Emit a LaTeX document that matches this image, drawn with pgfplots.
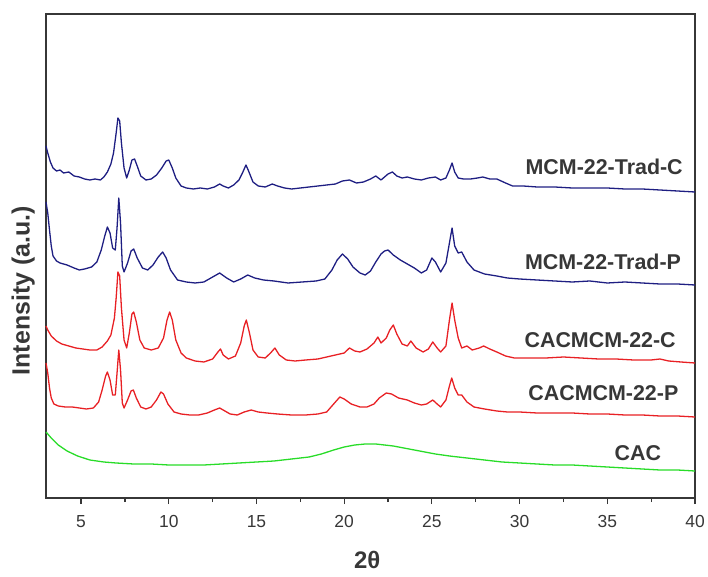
\documentclass[border=0pt]{standalone}
\usepackage{pgfplots}
\pgfplotsset{compat=1.18}
\usepackage{pgfplotstable}
\usepackage{fontspec}
\setmainfont{Liberation Sans}
\definecolor{cblue}{RGB}{30,30,130}
\definecolor{cred}{RGB}{232,32,36}
\definecolor{cgreen}{RGB}{40,220,40}
\definecolor{cgray}{RGB}{55,55,55}

\pgfplotstableread{
x y
3.0 352
3.1 345
3.25 336
3.4 330
3.6 327
3.8 328
4.0 325
4.3 326
4.6 322
4.9 321
5.2 319
5.5 318
5.8 319
6.1 318
6.3 321
6.5 326
6.7 334
6.85 345
7.0 365
7.1 380
7.2 377
7.3 355
7.45 330
7.6 320
7.75 328
7.9 338
8.05 339
8.2 332
8.4 322
8.7 318
9.0 319
9.3 323
9.6 330
9.85 337
10.0 338
10.2 330
10.4 320
10.7 312
11.0 310
11.4 309
11.8 310
12.2 309
12.6 311
12.9 314
13.1 312
13.4 310
13.7 313
14.0 318
14.2 325
14.4 333
14.55 327
14.8 316
15.1 312
15.5 311
15.9 314
16.2 312
16.6 310
17.0 309
17.5 310
18.0 311
18.5 312
19.0 313
19.5 314
19.9 317
20.3 318
20.7 315
21.1 316
21.5 319
21.8 322
22.1 318
22.5 324
22.75 326
23.0 322
23.3 320
23.6 321
24.0 319
24.4 318
24.8 320
25.2 321
25.5 318
25.8 320
26.0 328
26.15 335
26.3 326
26.5 320
26.8 319
27.2 319
27.6 320
27.9 321
28.3 319
28.7 319
29.2 315
29.6 312
30.2 312
31.0 311
32.0 311
33.0 310
34.0 310
35.0 310
36.0 309
37.0 309
38.0 308
39.0 307
40.0 306
}\tradC

\pgfplotstableread{
x y
3.0 296
3.1 285
3.2 268
3.3 252
3.4 242
3.6 237
3.8 235
4.2 233
4.6 230
4.9 228
5.2 229
5.6 231
5.9 236
6.15 248
6.35 262
6.5 271
6.65 265
6.8 250
6.95 248
7.05 270
7.15 300
7.25 275
7.35 232
7.45 226
7.65 235
7.85 247
8.0 249
8.2 240
8.5 230
8.8 228
9.1 233
9.4 241
9.65 246
9.85 240
10.1 228
10.5 218
11.0 216
11.5 215
12.0 216
12.5 221
12.9 225
13.3 220
13.7 216
14.1 219
14.5 223
14.9 220
15.4 218
16.0 217
16.8 215
17.6 216
18.4 217
18.9 219
19.3 228
19.6 238
19.9 244
20.2 239
20.5 231
20.9 225
21.2 223
21.5 227
21.8 236
22.1 244
22.3 247
22.5 248
22.8 243
23.2 238
23.6 234
24.0 230
24.4 225
24.7 228
25.0 240
25.2 236
25.5 226
25.8 235
26.0 255
26.15 270
26.3 252
26.5 245
26.7 246
27.0 236
27.4 228
28.0 224
28.7 222
29.3 220
30.0 219
31.0 218
32.0 217
33.0 216
34.0 217
35.0 215
36.0 216
37.0 215
38.0 214
39.0 214
40.0 213
}\tradP

\pgfplotstableread{
x y
3.0 172
3.1 168
3.3 162
3.6 157
3.9 154
4.3 152
4.7 150
5.1 149
5.5 148
5.9 148
6.2 151
6.5 157
6.7 163
6.9 180
7.0 200
7.1 226
7.2 222
7.3 190
7.45 158
7.6 150
7.75 165
7.9 184
8.0 186
8.15 176
8.35 158
8.6 150
9.0 148
9.4 150
9.7 160
9.9 178
10.05 186
10.2 178
10.4 158
10.7 145
11.0 140
11.5 137
12.0 136
12.5 139
12.8 146
12.95 149
13.1 143
13.4 139
13.8 142
14.1 155
14.3 172
14.42 178
14.6 165
14.8 148
15.1 141
15.5 140
15.8 145
16.05 150
16.3 143
16.7 138
17.2 137
17.8 138
18.5 139
19.0 141
19.5 143
20.0 145
20.3 150
20.6 147
20.9 146
21.3 149
21.7 155
21.92 161
22.1 155
22.4 160
22.6 168
22.8 173
23.0 164
23.3 154
23.6 152
23.8 157
24.1 150
24.5 146
24.8 149
25.05 156
25.3 150
25.5 146
25.8 152
26.0 178
26.15 195
26.3 178
26.5 160
26.7 150
27.0 152
27.3 148
27.7 150
27.95 152
28.3 149
28.7 146
29.2 142
29.7 140
30.5 140
31.5 140
32.5 141
33.5 140
34.5 139
35.5 139
36.5 138
37.5 138
38.0 139
38.5 137
39.2 136
40.0 135
}\cacC

\pgfplotstableread{
x y
3.0 135
3.1 125
3.2 110
3.3 100
3.45 94
3.7 92
4.1 91
4.5 91
4.9 90
5.3 89
5.7 90
6.0 96
6.2 108
6.4 122
6.5 126
6.65 118
6.8 103
6.95 103
7.05 125
7.15 148
7.25 128
7.35 95
7.45 90
7.65 98
7.85 107
7.98 108
8.15 100
8.4 91
8.7 89
9.0 91
9.3 98
9.55 106
9.7 104
9.95 94
10.3 86
10.7 84
11.2 83
11.7 83
12.2 85
12.6 88
12.9 90
13.2 87
13.5 84
13.9 83
14.3 86
14.7 88
15.1 86
15.6 85
16.2 84
17.0 83
17.8 83
18.5 84
19.0 86
19.4 94
19.75 101
20.0 99
20.4 94
20.9 91
21.3 91
21.7 94
22.0 100
22.4 105
22.7 104
23.1 100
23.6 98
24.0 95
24.4 93
24.7 94
25.05 98
25.3 94
25.5 91
25.8 98
26.0 112
26.13 120
26.3 110
26.5 103
26.7 103
27.0 96
27.4 91
28.0 89
28.7 87
29.3 86
30.0 86
31.0 85
32.0 85
33.0 85
34.0 84
35.0 84
36.0 83
37.0 83
38.0 82
39.0 82
40.0 81
}\cacP

\pgfplotstableread{
x y
3.0 66
3.3 60
3.7 53
4.2 47
4.8 42
5.5 38
6.3 36
7.0 35
8.0 34
9.0 34
10.0 33
11.0 33
12.0 33
13.0 34
14.0 35
15.0 36
16.0 37
17.0 39
18.0 41
18.7 44
19.4 48
20.0 51
20.6 53
21.2 54
21.8 54
22.3 53
22.8 52
23.4 50
24.0 48
24.6 46
25.2 44
26.0 42
27.0 40
28.0 38
29.0 36
30.0 35
31.0 34
32.0 33
33.0 33
34.0 32
35.0 31
36.0 30
37.0 29
38.0 28
39.0 28
40.0 27
}\cac

\begin{document}
\begin{tikzpicture}
\begin{axis}[
  scale only axis,
  width=649bp, height=484bp,
  xmin=3, xmax=40, ymin=0, ymax=484,
  axis line style={cgray, line width=1.6pt},
  xtick={5,10,...,40},
  minor xtick={7.5,12.5,...,37.5},
  ytick=\empty,
  tick align=outside,
  xtick pos=bottom,
  major tick length=6bp,
  minor tick length=4bp,
  tick style={cgray, line width=1.2pt},
  /pgf/number format/assume math mode=true,
  tick label style={font=\fontsize{17.5}{19}\selectfont, text=cgray},
  xticklabel style={yshift=-8bp},
  xlabel={\textbf{2θ}},
  xlabel style={font=\fontsize{24}{26}\selectfont, text=cgray, at={(axis description cs:0.495,-0.128)}, anchor=center},
  ylabel={\textbf{Intensity (a.u.)}},
  ylabel style={font=\fontsize{25}{27}\selectfont, text=cgray, at={(axis description cs:-0.035,0.428)}, anchor=center},
  every axis plot/.append style={line width=1.3pt, line join=round},
  clip=false,
]
\coordinate (ll) at (rel axis cs:0,0);
\coordinate (ur) at (rel axis cs:1,1);
\addplot[cblue] table[x=x,y=y] {\tradC};
\addplot[cblue] table[x=x,y=y] {\tradP};
\addplot[cred] table[x=x,y=y] {\cacC};
\addplot[cred] table[x=x,y=y] {\cacP};
\addplot[cgreen] table[x=x,y=y] {\cac};
\begin{scope}[every node/.style={anchor=east, text=cgray, font=\fontsize{21.5}{23}\selectfont\bfseries}]
\node at (axis cs:39.5,331) {MCM-22-Trad-C};
\node at (axis cs:39.4,236) {MCM-22-Trad-P};
\node at (axis cs:39.1,158) {CACMCM-22-C};
\node at (axis cs:39.25,105) {CACMCM-22-P};
\node at (axis cs:38.27,45) {CAC};
\end{scope}
\end{axis}
\pgfresetboundingbox
\path[use as bounding box] ([shift={(-46bp,-79bp)}]ll) rectangle ([shift={(13bp,14bp)}]ur);
\end{tikzpicture}
\end{document}
